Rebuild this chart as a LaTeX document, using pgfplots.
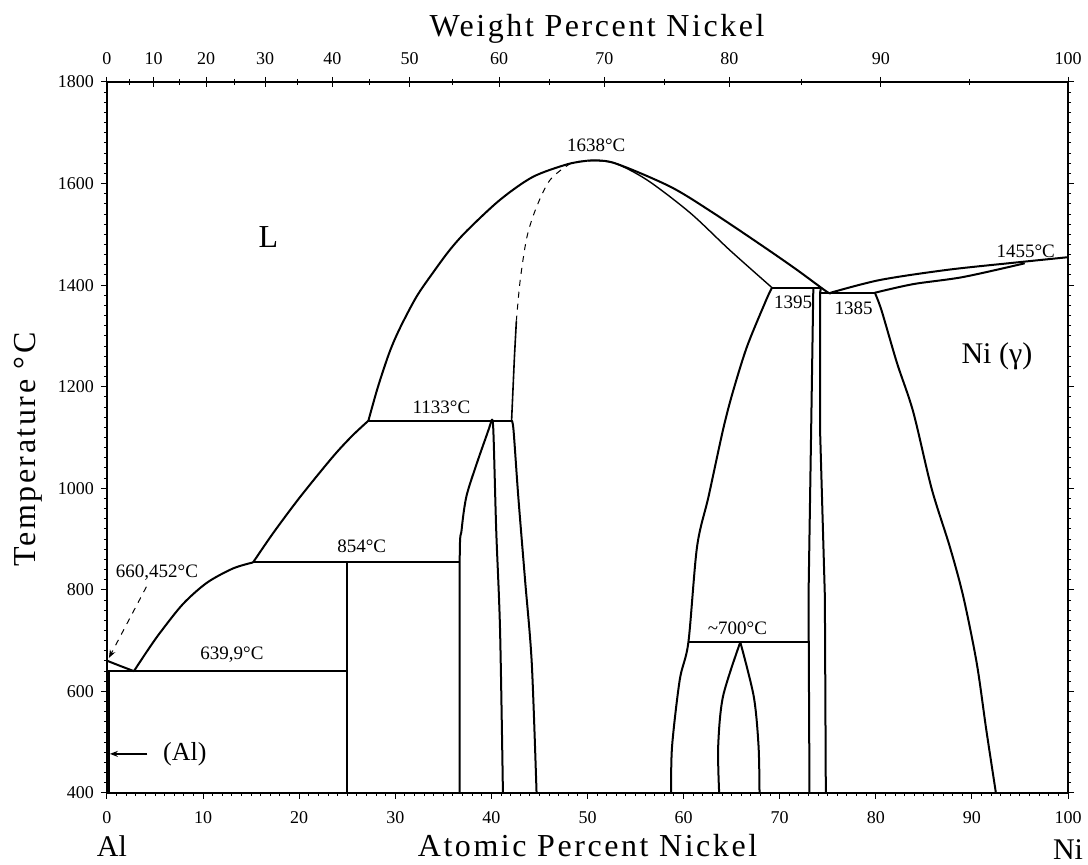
\documentclass[border=0pt]{standalone}
\usepackage{fontspec}
\setmainfont{Liberation Serif}
\newfontfamily\spaced[LetterSpace=8]{Liberation Serif}
\usepackage{pgfplots}
\pgfplotsset{compat=1.18}
\usetikzlibrary{arrows.meta}

\begin{document}
\begin{tikzpicture}
\useasboundingbox (-53.5pt,-36pt) rectangle (490.5pt,396.5pt);
\pgfplotsset{
  pd/.style={black, line width=1pt, line join=round, smooth, tension=0.5},
  pdl/.style={black, line width=1pt, line join=round},
}
\tikzset{lbl/.style={font=\fontsize{9.5}{10}\selectfont, inner sep=0pt}}
% main axis: atomic percent
\begin{axis}[
  name=main,
  scale only axis,
  width=480.5pt, height=355.5pt,
  xmin=0, xmax=100, ymin=400, ymax=1800,
  xtick={0,10,...,100},
  ytick={400,600,...,1800},
  minor x tick num=9,
  minor y tick num=9,
  xtick pos=left,
  tick align=outside,
  major tick length=3pt, minor tick length=1.5pt,
  axis line style={line width=0.6pt},
  every tick/.style={black, line width=0.5pt},
  /pgf/number format/assume math mode=true,
  /pgf/number format/set thousands separator={},
  tick label style={font=\fontsize{9}{10}\selectfont},
  xticklabel style={yshift=-2.5pt},
  clip=false,
]
% (Al) solvus along the Al axis
\addplot[pdl, line width=1.4pt] coordinates {(0.15,400) (0.15,639.9)};
% Al liquidus to eutectic
\addplot[pdl] coordinates {(0,660.452) (1.4,650) (2.8,639.9)};
% eutectic 639.9
\addplot[pdl, line width=0.8pt] coordinates {(0,639.9) (25,639.9)};
% liquidus 639.9 -> 854
\addplot[pd] coordinates {(2.8,639.9) (4.2,680) (5.5,715) (7.9,772) (10.4,814) (13.1,842) (15.2,854)};
% peritectic 854
\addplot[pdl] coordinates {(15.2,854) (36.7,854)};
% Al3Ni
\addplot[pdl] coordinates {(25,400) (25,854)};
% liquidus 854 -> 1133
\addplot[pd] coordinates {(15.2,854) (17.3,912) (20.1,983) (23.5,1062) (25.5,1103) (27.2,1133)};
% peritectic 1133
\addplot[pdl] coordinates {(27.2,1133) (42.1,1133)};
% liquidus 1133 -> 1638
\addplot[pd] coordinates {(27.2,1133) (28.2,1200) (29.4,1268) (30.5,1316) (32.2,1377) (33.9,1424) (35.7,1470) (37.5,1508) (40.9,1568) (44.3,1613) (47.9,1638) (50,1645)};
% AlNi solidus, Al side
\addplot[black, line width=0.5pt, dashed, smooth, tension=0.5] coordinates {(49.5,1644) (48.2,1639) (46.1,1607) (44.7,1554) (43.7,1495) (43.0,1410) (42.6,1330)};
\addplot[pdl, line width=0.8pt] coordinates {(42.6,1330) (42.4,1260) (42.1,1133)};
% Al3Ni2
\addplot[pd] coordinates {(36.7,400) (36.7,854) (36.9,918) (37.4,984) (38.5,1050) (39.7,1115) (40.0,1133)};
\addplot[pd] coordinates {(40.0,1133) (40.2,1115) (40.5,918) (40.9,721) (41.2,400)};
% AlNi, Al side
\addplot[pd] coordinates {(42.1,1133) (42.3,1115) (42.8,983) (43.5,820) (44.2,656) (44.7,400)};
% liquidus 1638 -> 1385
\addplot[pd] coordinates {(50,1645) (52.7,1641) (58.6,1594) (63.1,1542) (68.3,1476) (71.8,1430) (74.9,1387) (75.3,1385)};
% AlNi solidus, Ni side
\addplot[black, line width=0.7pt, smooth, tension=0.5] coordinates {(50,1645) (52.7,1641) (56.2,1607) (60.7,1542) (64.8,1469) (69.2,1395)};
% peritectic 1395
\addplot[pdl] coordinates {(69.2,1395) (74.3,1395)};
% AlNi, Ni side
\addplot[pd] coordinates {(69.2,1395) (68.6,1371) (66.6,1279) (65.1,1188) (64.1,1115) (62.6,984) (61.4,885) (60.5,697) (59.6,623) (58.8,492) (58.7,400)};
% ~700
\addplot[pdl] coordinates {(60.5,697) (73.0,697)};
% Al3Ni5
\addplot[pd] coordinates {(63.7,400) (63.6,492) (64.1,590) (65.9,697)};
\addplot[pd] coordinates {(65.9,697) (67.3,590) (67.8,492) (67.9,400)};
% AlNi3
\addplot[pdl] coordinates {(73.5,1395) (73.3,1148) (73.0,787) (73.1,400)};
\addplot[pdl] coordinates {(74.3,1395) (74.2,1385) (74.2,1115) (74.7,787) (74.8,400)};
% eutectic 1385
\addplot[pdl] coordinates {(74.2,1385) (79.9,1385)};
% Ni liquidus and solidus
\addplot[pd] coordinates {(75.3,1385) (80.4,1410) (87.4,1430) (94.3,1444) (100,1455)};
\addplot[pd] coordinates {(79.9,1385) (83.9,1402) (89.1,1416) (95.5,1443)};
% Ni solvus
\addplot[pd] coordinates {(79.9,1385) (80.6,1350) (82.2,1247) (83.9,1150) (85.8,1000) (87.7,885) (89.1,787) (90.5,656) (91.5,524) (92.5,400)};
% pointers
\addplot[black, line width=0.5pt, dashed, -{Stealth[length=4pt]}] coordinates {(4.1,806) (0.2,666)};
\addplot[black, line width=0.7pt, -{Stealth[length=4pt]}] coordinates {(4.2,477) (0.3,477)};

\node[lbl] at (axis cs:50.9,1676) {1638°C};
\node[lbl] at (axis cs:34.8,1160) {1133°C};
\node[lbl] at (axis cs:26.5,885) {854°C};
\node[lbl] at (axis cs:13.0,672) {639,9°C};
\node[lbl] at (axis cs:5.2,833) {660,452°C};
\node[lbl] at (axis cs:65.6,725) {\textasciitilde700°C};
\node[lbl] at (axis cs:71.4,1367) {1395};
\node[lbl] at (axis cs:77.7,1355) {1385};
\node[lbl] at (axis cs:95.6,1466) {1455°C};
\node[font=\fontsize{16}{18}\selectfont] at (axis cs:16.8,1495) {L};
\node[font=\fontsize{15}{18}\selectfont] at (axis cs:92.6,1259) {Ni (γ)};
\node[font=\fontsize{13}{14}\selectfont] at (axis cs:8.1,477) {(Al)};
\end{axis}
% top axis: weight percent
\begin{axis}[
  scale only axis,
  width=480.5pt, height=355.5pt,
  xmin=0, xmax=100, ymin=400, ymax=1800,
  axis x line*=top,
  hide y axis,
  xtick={0,4.86,10.31,16.46,23.46,31.49,40.81,51.75,64.77,80.53,100},
  xticklabels={0,10,20,30,40,50,60,70,80,90,100},
  minor xtick={2.36,7.50,13.29,19.84,27.33,35.97,46.06,57.97,72.26,89.73},
  tick align=center,
  major tick length=5pt, minor tick length=3pt,
  axis line style={line width=0.6pt},
  every tick/.style={black, line width=0.5pt},
  tick label style={font=\fontsize{9}{10}\selectfont},
  xticklabel style={yshift=2.5pt},
]
\end{axis}
\node[anchor=base, font=\fontsize{16}{18}\selectfont] at (240.25pt,-32pt) {\spaced Atomic Percent Nickel};
\node[anchor=base, font=\fontsize{16}{18}\selectfont] at (245pt,378pt) {\spaced Weight Percent Nickel};
\node[anchor=base, font=\fontsize{15}{18}\selectfont] at (2.5pt,-32pt) {Al};
\node[anchor=base, font=\fontsize{15}{18}\selectfont] at (480.5pt,-33.5pt) {Ni};
\node[rotate=90, font=\fontsize{16}{18}\selectfont] at (-39.5pt,171.75pt) {\spaced Temperature °C};
\end{tikzpicture}
\end{document}
